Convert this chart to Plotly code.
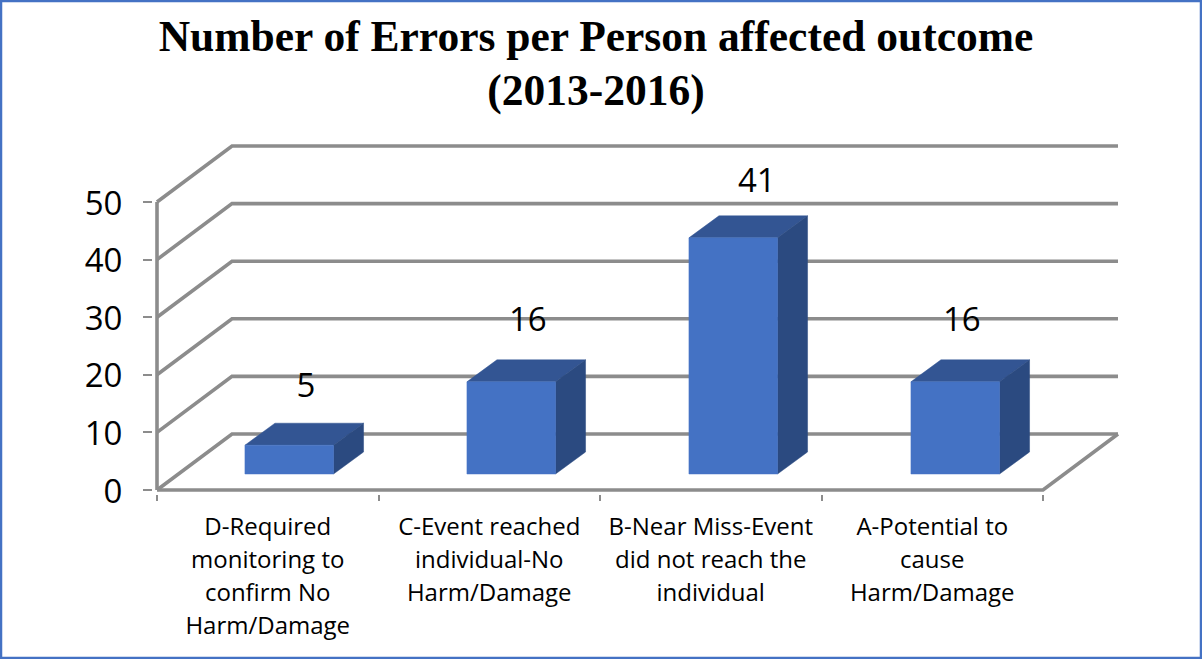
import plotly.graph_objects as go

title_lines = ["Number of Errors per Person affected outcome", "(2013-2016)"]
category_lines = [
    ["D-Required", "monitoring to", "confirm No", "Harm/Damage"],
    ["C-Event reached", "individual-No", "Harm/Damage"],
    ["B-Near Miss-Event", "did not reach the", "individual"],
    ["A-Potential to", "cause", "Harm/Damage"],
]
values = [5, 16, 41, 16]
y_ticks = [0, 10, 20, 30, 40, 50]

W, H = 1202, 659
PAD = 4  # room in pixels left and below the zero lines, so the thick frame is not clipped
LEFT, RIGHT_PX, TOP_PX, ZERO_PX = 157 - PAD, 1122, 140, 490 + PAD
PX_X = 221.5
PX_Y = 5.76
xmin = -PAD / PX_X
ymin = -PAD / PX_Y
xmax = xmin + (RIGHT_PX - LEFT) / PX_X
ymax = ymin + (ZERO_PX - TOP_PX) / PX_Y

n = len(values)
wall_dx, wall_dy = 75 / PX_X, 56 / PX_Y
floor_dy = 16 / PX_Y
bar_dx, bar_dy = 30 / PX_X, 22 / PX_Y
bar_start, bar_width, bar_step = 0.397, 0.40, 222 / PX_X
label_shift_px = [0, 0, 7, -10]
label_rise = [6.0, 6.5, 5.5, 6.5]
GRID = "#8c8c8c"
FRONT, TOPC, SIDE = "#4472C4", "#335593", "#2B4A80"

# frame: wall gridlines, left wall diagonals, floor and front axis
gx, gy = [], []
for t in y_ticks:
    gx += [0, wall_dx, n + wall_dx, None]
    gy += [t, t + wall_dy, t + wall_dy, None]
gx += [0, 0, None, 0, n, n + wall_dx, None]
gy += [0, y_ticks[-1], None, 0, 0, wall_dy, None]

fx, fy, tx, ty, sx, sy, lx, ly = [], [], [], [], [], [], [], []
for i, v in enumerate(values):
    x0 = i * bar_step + bar_start
    x1 = x0 + bar_width
    y0 = floor_dy
    y1 = floor_dy + v
    fx += [x0, x1, x1, x0, x0, None]
    fy += [y0, y0, y1, y1, y0, None]
    tx += [x0, x1, x1 + bar_dx, x0 + bar_dx, x0, None]
    ty += [y1, y1, y1 + bar_dy, y1 + bar_dy, y1, None]
    sx += [x1, x1 + bar_dx, x1 + bar_dx, x1, x1, None]
    sy += [y0, y0 + bar_dy, y1 + bar_dy, y1, y0, None]
    lx.append(x0 + 0.275 + label_shift_px[i] / PX_X)
    ly.append(y1 + bar_dy + label_rise[i])

fig = go.Figure()
fig.add_trace(go.Scatter(x=gx, y=gy, mode="lines", line=dict(color=GRID, width=3.6),
                         hoverinfo="skip", showlegend=False, cliponaxis=False))
for px, py, c in [(tx, ty, TOPC), (sx, sy, SIDE), (fx, fy, FRONT)]:
    fig.add_trace(go.Scatter(x=px, y=py, mode="lines", fill="toself", fillcolor=c,
                             line=dict(color=c, width=0.5), hoverinfo="skip", showlegend=False))
fig.add_trace(go.Scatter(x=lx, y=ly, mode="text", text=[str(v) for v in values],
                         textposition="middle center",
                         textfont=dict(family="Open Sans", size=33, color="#000000"),
                         hoverinfo="skip", showlegend=False, cliponaxis=False))

tick_text = ["<br>".join(f'<span style="font-size:24px">{s}</span>' for s in lines)
             for lines in category_lines]
title_text = "<br>".join(f'<span style="font-size:43.5px">{s}</span>' for s in title_lines)

fig.update_layout(
    width=W, height=H,
    margin=dict(l=LEFT, r=W - RIGHT_PX, t=TOP_PX, b=H - ZERO_PX, autoexpand=False),
    paper_bgcolor="white", plot_bgcolor="white",
    showlegend=False,
    title=dict(text=title_text, x=596 / W, xanchor="center", y=1 - 51 / H, yanchor="top",
               font=dict(family="Liberation Serif", size=41.5, color="#000000", weight="bold")),
    xaxis=dict(range=[xmin, xmax], showgrid=False, zeroline=False, showline=False,
               tickmode="array", tickvals=[i + 0.5 for i in range(n)], ticktext=tick_text,
               ticks="", tickangle=0, ticklabelstandoff=15,
               tickfont=dict(family="Open Sans", size=25.4, color="#000000"),
               minor=dict(tickmode="array", tickvals=list(range(n + 1)), ticks="outside",
                          ticklen=6, tickwidth=2, tickcolor=GRID, showgrid=False)),
    yaxis=dict(range=[ymin, ymax], showgrid=False, zeroline=False, showline=False,
               tickmode="array", tickvals=y_ticks, ticks="outside", ticklen=9, tickwidth=2,
               tickcolor=GRID, ticklabelstandoff=14, ticklabelshift=1,
               tickfont=dict(family="Open Sans", size=33, color="#000000")),
    shapes=[dict(type="rect", xref="paper", yref="paper",
                 x0=(1 - LEFT) / (RIGHT_PX - LEFT), x1=(W - 1 - LEFT) / (RIGHT_PX - LEFT),
                 y0=-(H - 1 - ZERO_PX) / (ZERO_PX - TOP_PX), y1=(ZERO_PX - 1) / (ZERO_PX - TOP_PX),
                 line=dict(color="#4472C4", width=2.5), layer="above")],
)
fig.write_html("out.html", config={"displayModeBar": False},
               post_script="document.body.style.margin='0';")
